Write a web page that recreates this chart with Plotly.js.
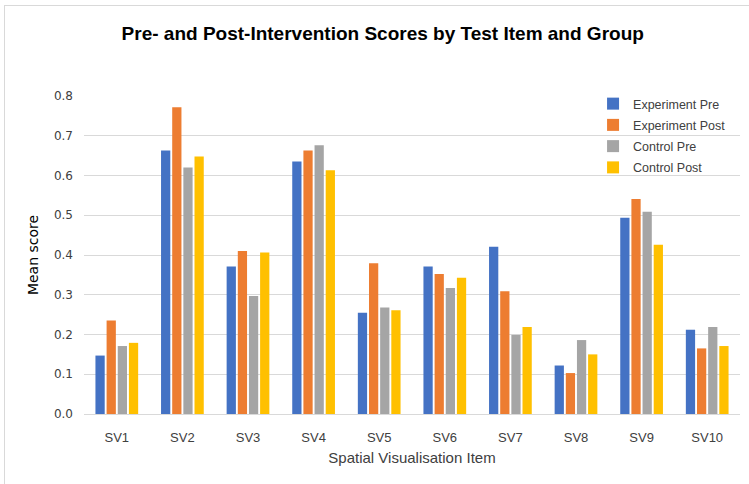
<!DOCTYPE html>
<html><head><meta charset="utf-8">
<script src="https://cdn.plot.ly/plotly-3.0.1.min.js"></script>
<style>
html,body{margin:0;padding:0;background:#fff;}
#frame{position:absolute;left:4px;top:5px;width:760px;height:500px;border:1px solid #d9d9d9;box-sizing:border-box;}
#chart{position:absolute;left:0;top:0;width:749px;height:484px;}
</style></head>
<body>
<div id="frame"></div>
<div id="chart"></div>
<script>
const categories = ["SV1","SV2","SV3","SV4","SV5","SV6","SV7","SV8","SV9","SV10"];
const experimentPre  = [0.147,0.663,0.371,0.635,0.255,0.371,0.421,0.122,0.494,0.212];
const experimentPost = [0.235,0.772,0.410,0.663,0.379,0.352,0.309,0.103,0.541,0.165];
const controlPre     = [0.171,0.620,0.297,0.676,0.268,0.317,0.199,0.186,0.509,0.219];
const controlPost    = [0.179,0.648,0.406,0.613,0.261,0.343,0.219,0.150,0.426,0.171];
const seriesNames = ["Experiment Pre","Experiment Post","Control Pre","Control Post"];
const seriesColors = ["#4472C4","#ED7D31","#A5A5A5","#FFC000"];
const seriesValues = [experimentPre, experimentPost, controlPre, controlPost];

const font = "Liberation Sans, Arial, sans-serif";
const traces = seriesValues.map((v,i)=>({
  type:"bar", x:categories, y:v, name:seriesNames[i], legendgroup:"g"+i,
  marker:{color:seriesColors[i]}
}));
const layout = {
  width:749, height:484,
  margin:{l:84,r:9,t:96,b:70},
  paper_bgcolor:"rgba(255,255,255,0)", plot_bgcolor:"rgba(255,255,255,0)",
  barmode:"group", bargap:0.32, bargroupgap:0.17,
  title:{text:"<b>Pre- and Post-Intervention Scores by Test Item and Group</b>",
    font:{family:font,size:19,color:"#000"}, x:0.511, xanchor:"center", y:0.932, yanchor:"middle"},
  xaxis:{type:"category", tickfont:{family:font,size:13,color:"#404040"}, ticklabelstandoff:14,
    title:{text:"Spatial Visualisation Item", font:{family:font,size:15,color:"#404040"}, standoff:8},
    showline:false, ticks:"", showgrid:false},
  yaxis:{range:[0,0.8], dtick:0.1, tickformat:".1f", showgrid:true, gridcolor:"#d9d9d9",
    zeroline:true, zerolinecolor:"#d9d9d9", zerolinewidth:1, ticklabelstandoff:10,
    tickfont:{family:"DejaVu Sans, sans-serif",size:12,color:"#404040"}, ticks:"", ticklen:0,
    title:{text:"Mean score", font:{family:"DejaVu Sans, sans-serif",size:14,color:"#000"}, standoff:12}},
  legend:{x:0.776, y:1.022, xanchor:"left", yanchor:"top", bgcolor:"rgba(255,255,255,0)", borderwidth:0,
    font:{family:font,size:12.5,color:"#404040"}, traceorder:"grouped", tracegroupgap:2, itemwidth:30},
  showlegend:true
};
Plotly.newPlot("chart", traces, layout, {displayModeBar:false, staticPlot:true});
</script>
</body></html>
